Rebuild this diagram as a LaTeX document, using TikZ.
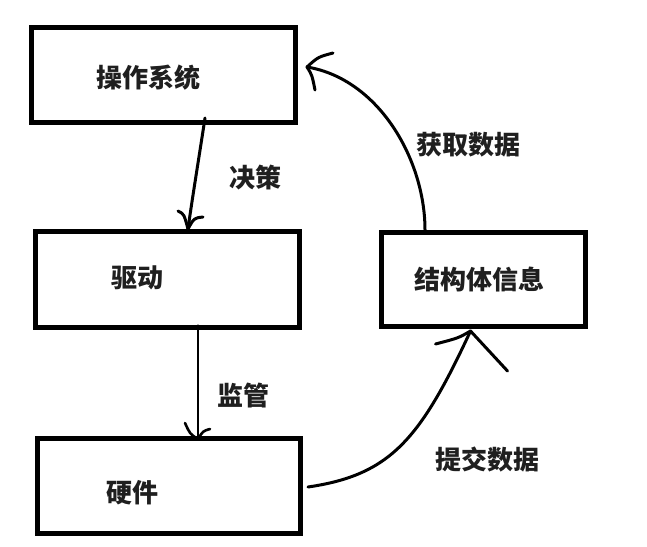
\documentclass[tikz,border=0pt]{standalone}
\usepackage{fontspec}
\newfontfamily\cjk{Noto Sans CJK SC}
\begin{document}
\begin{tikzpicture}[x=1pt,y=-1pt,
  box/.style={draw=black,line width=5pt,rectangle,inner sep=0pt,fill=white},
  lbl/.style={font=\cjk\bfseries\fontsize{26}{30}\selectfont,text=black!88,inner sep=0pt,anchor=center},
  wire/.style={draw=black,line width=3pt,line cap=round,line join=round}]
\useasboundingbox[fill=white] (0,0) rectangle (647,546);
% boxes
\node[box,minimum width=264pt,minimum height=95pt] (os) at (163.5,75) {};
\node[box,minimum width=264pt,minimum height=95.5pt] (drv) at (167.5,279.25) {};
\node[box,minimum width=263pt,minimum height=95pt] (hw) at (169,486) {};
\node[box,minimum width=204pt,minimum height=94pt] (st) at (483.5,279.5) {};
% box texts
\node[lbl] (ost) at (148,77.5) {操作系统};
\node[lbl] (drvt) at (137,278) {驱动};
\node[lbl] (hwt) at (132,493) {硬件};
\node[lbl] (stt) at (479,279.5) {结构体信息};
% connector labels
\node[lbl] (l1) at (255,178) {决策};
\node[lbl] (l2) at (243,396) {监管};
\node[lbl] (l3) at (468,145) {获取数据};
\node[lbl] (l4) at (487,460) {提交数据};
% connector ends
\coordinate (a1s) at ([xshift=41.5pt,yshift=7pt]os.south);
\coordinate (a1e) at ([xshift=20.5pt]drv.north);
\coordinate (a2s) at ([xshift=30.5pt,yshift=4pt]drv.south);
\coordinate (a2e) at ([xshift=29pt,yshift=-3pt]hw.north);
\coordinate (a3s) at ([xshift=-58.5pt]st.north);
\coordinate (a3e) at ([xshift=9pt,yshift=8pt]os.east);
\coordinate (a4s) at ([xshift=5pt,yshift=-1pt]hw.east);
\coordinate (a4e) at ([xshift=-13pt,yshift=-2pt]st.south);
% 决策
\draw[wire] (a1s) .. controls ++(-5,33) and ++(4,-29) .. (a1e);
\draw[wire] (a1e) .. controls ++(-4,-15) .. ++(-10,-18);
\draw[wire] (a1e) .. controls ++(6,-11) .. ++(15,-12);
% 监管
\draw[wire,line width=2.6pt] (a2s) -- (a2e);
\draw[wire,line width=2.6pt] (a2e) .. controls ++(-8,-5) .. ++(-13,-16);
\draw[wire,line width=2.6pt] (a2e) .. controls ++(5,-8) .. ++(12,-10);
% 获取数据
\draw[wire] (a3s) .. controls ++(0,-70) and ++(72,12) .. (a3e);
\draw[wire] (a3e) .. controls ++(11,-10) .. ++(26,-14);
\draw[wire] (a3e) .. controls ++(5,8) .. ++(8,23);
% 提交数据
\draw[wire] (a4s) .. controls (390,475) and (420,440) .. (a4e);
\draw[wire] (a4e) .. controls ++(-12,7) .. ++(-35,13);
\draw[wire] (a4e) -- ++(37,40);
\end{tikzpicture}
\end{document}
